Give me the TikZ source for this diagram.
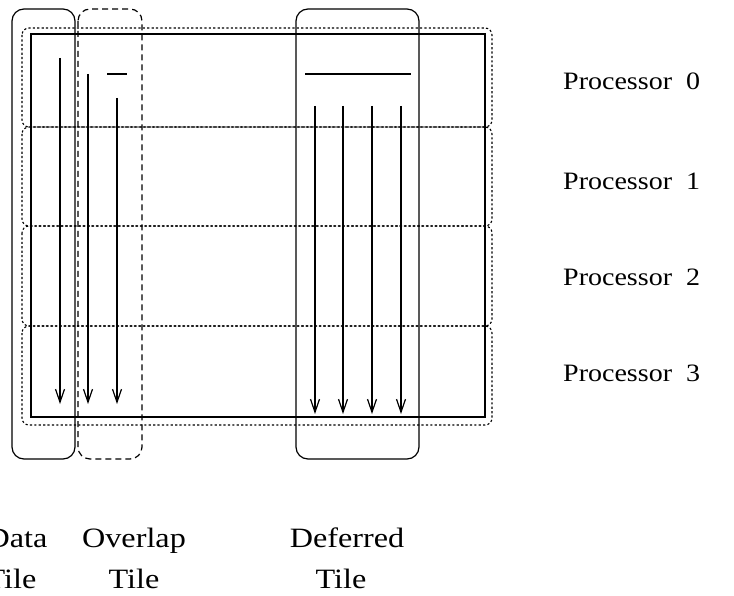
\documentclass[tikz,border=0pt]{standalone}
\usepackage{fontspec}
\setmainfont{Liberation Serif}
\usetikzlibrary{arrows.meta}
\begin{document}
\begin{tikzpicture}[x=1pt,y=-1pt,
  ln/.style={line width=1.2pt},
  proc/.style={line width=1.1pt,dash pattern=on 2.2pt off 2.2pt,rounded corners=7pt},
  tilebox/.style={line width=1.2pt,rounded corners=12pt},
  arr/.style={line width=1.2pt,-{Straight Barb[length=13pt,width=9pt,line width=1.2pt]}},
  plab/.style={anchor=base west,inner sep=0pt,font=\fontsize{25}{30}\selectfont,xscale=1.12,transform shape},
  tlab/.style={anchor=base,inner sep=0pt,font=\fontsize{28}{33}\selectfont,xscale=1.15,transform shape}]
\useasboundingbox (0,0) rectangle (734,596);
% processor regions
\draw[proc] (22,28) rectangle (492,127);
\draw[proc] (22,127) rectangle (492,226);
\draw[proc] (22,226) rectangle (492,326);
\draw[proc] (22,326) rectangle (492,425);
% main array
\draw[ln] (31,34) rectangle (485,417);
% tiles
\draw[tilebox] (12,9) rectangle (75,459);
\draw[tilebox,dash pattern=on 6pt off 4pt] (78,9) rectangle (142,459);
\draw[tilebox] (296,9) rectangle (419,459);
% coordinates
\coordinate (d0) at (60,58);   \coordinate (d1) at (60,404);
\coordinate (o0) at (88,74);   \coordinate (o1) at (88,404);
\coordinate (p0) at (117,98);  \coordinate (p1) at (117,404);
\coordinate (s0) at (107,74);  \coordinate (s1) at (127,74);
\coordinate (h0) at (305,74);  \coordinate (h1) at (411,74);
\coordinate (a0) at (315,106); \coordinate (a1) at (315,414);
\coordinate (b0) at (343,106); \coordinate (b1) at (343,414);
\coordinate (c0) at (372,106); \coordinate (c1) at (372,414);
\coordinate (e0) at (401,106); \coordinate (e1) at (401,414);
\draw[arr] (d0) -- (d1);
\draw[arr] (o0) -- (o1);
\draw[arr] (p0) -- (p1);
\draw[ln] (s0) -- (s1);
\draw[ln] (h0) -- (h1);
\draw[arr] (a0) -- (a1);
\draw[arr] (b0) -- (b1);
\draw[arr] (c0) -- (c1);
\draw[arr] (e0) -- (e1);
% labels
\node[plab] (pl0) at (563,90) {Processor\ \ 0};
\node[plab] (pl1) at (563,190) {Processor\ \ 1};
\node[plab] (pl2) at (563,286) {Processor\ \ 2};
\node[plab] (pl3) at (563,381) {Processor\ \ 3};
\node[tlab] (t1a) at (17,547) {Data};
\node[tlab] (t1b) at (11,588) {Tile};
\node[tlab] (t2a) at (134,547) {Overlap};
\node[tlab] (t2b) at (134,588) {Tile};
\node[tlab] (t3a) at (347,547) {Deferred};
\node[tlab] (t3b) at (341,588) {Tile};
\end{tikzpicture}
\end{document}
